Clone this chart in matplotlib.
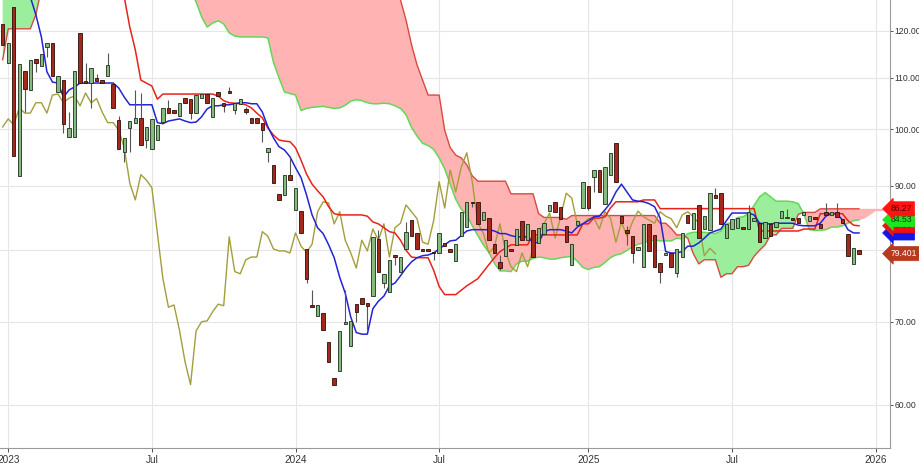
import numpy as np
import pandas as pd
import matplotlib
matplotlib.use("Agg")
import matplotlib.pyplot as plt
import matplotlib.transforms as mtransforms
from matplotlib.ticker import FixedLocator, NullLocator, FuncFormatter

plt.rcParams['font.family'] = ['Liberation Sans', 'DejaVu Sans']

# weekly bars (156 candles) + 5 weeks of cloud projection
weeks = pd.date_range('2022-12-26', periods=161, freq='W-MON')

open_ = [121.5, 113.0, 125.4, 91.7, 111.4, 107.5, 113.9, 112.4, 116.4, 117.3,
         107.1, 109.5, 98.6, 98.6, 119.5, 109.3, 108.9, 109.9, 109.5, 110.4,
         108.7, 101.7, 95.9, 100.2, 101.2, 102.1, 98.0, 96.4, 98.0, 101.3,
         104.0, 103.6, 102.5, 105.9, 105.8, 103.0, 105.9, 106.7, 102.3, 107.1,
         105.0, 107.3, 103.6, 104.8, 103.8, 102.1, 102.1, 101.2, 95.9, 93.6,
         88.7, 88.5, 91.9, 86.1, 85.9, 80.1, 72.2, 70.7, 71.1, 67.4,
         63.1, 63.9, 69.7, 66.9, 72.3, 73.1, 72.5, 73.4, 81.6, 75.2,
         74.0, 79.2, 76.8, 80.1, 84.5, 82.5, 80.1, 80.1, 79.6, 79.5,
         81.0, 80.1, 78.3, 82.0, 83.4, 87.4, 87.4, 84.5, 84.8, 80.8,
         78.2, 79.1, 80.1, 80.7, 84.4, 81.4, 83.0, 81.0, 82.4, 85.9,
         87.4, 86.6, 83.6, 77.8, 83.7, 86.4, 90.0, 91.5, 92.7, 87.1,
         91.9, 97.5, 85.1, 83.0, 82.0, 79.9, 77.5, 83.9, 82.2, 78.1,
         79.2, 79.5, 76.6, 78.9, 85.3, 83.1, 86.9, 83.1, 83.0, 88.5,
         88.8, 81.7, 83.1, 83.3, 83.4, 83.1, 84.4, 84.0, 81.7, 83.9,
         83.4, 84.8, 84.8, 84.8, 84.8, 85.3, 84.4, 85.0, 83.9, 85.8,
         85.3, 85.8, 84.7, 82.4, 77.9, 79.9]

high = [121.5, 117.3, 125.4, 112.8, 111.4, 113.7, 113.9, 114.9, 117.3, 117.3,
        110.4, 109.5, 103.2, 111.4, 119.5, 113.0, 112.0, 110.8, 109.5, 115.2,
        108.7, 102.5, 98.4, 101.5, 107.5, 106.9, 100.4, 101.9, 100.8, 104.0,
        105.6, 103.6, 105.0, 105.9, 105.8, 106.5, 106.7, 106.7, 105.9, 107.1,
        105.0, 108.1, 105.0, 105.8, 104.2, 102.1, 102.1, 101.2, 96.6, 93.6,
        88.7, 91.9, 94.8, 89.7, 85.9, 80.1, 74.2, 72.2, 71.1, 67.4,
        63.1, 68.8, 74.2, 70.1, 72.3, 73.1, 72.5, 81.9, 83.0, 76.5,
        78.5, 79.2, 78.9, 84.2, 84.5, 82.5, 80.1, 80.1, 79.6, 82.5,
        81.0, 80.1, 80.8, 85.8, 87.4, 87.4, 87.4, 85.8, 84.8, 80.8,
        79.2, 81.4, 80.1, 83.1, 84.4, 83.9, 83.0, 83.3, 84.0, 86.9,
        87.4, 86.6, 83.6, 80.8, 84.4, 90.7, 90.0, 92.7, 92.7, 93.2,
        95.7, 97.5, 85.1, 83.6, 82.0, 80.4, 83.9, 83.9, 82.2, 78.1,
        79.5, 79.5, 80.1, 82.5, 85.3, 85.6, 86.9, 85.1, 88.8, 89.7,
        88.8, 83.9, 84.7, 84.8, 83.4, 86.9, 84.8, 84.0, 84.2, 83.9,
        84.2, 85.9, 86.3, 84.8, 84.8, 85.8, 85.1, 85.0, 83.9, 87.2,
        85.8, 87.2, 84.7, 82.4, 80.2, 79.9]

low = [116.9, 113.0, 95.1, 91.7, 103.2, 107.5, 111.2, 112.4, 114.3, 110.4,
       107.1, 99.3, 98.6, 98.6, 108.9, 108.9, 104.0, 109.3, 108.9, 110.4,
       104.0, 96.4, 94.1, 95.9, 101.2, 97.1, 96.6, 96.4, 98.0, 101.3,
       103.0, 103.0, 102.5, 105.0, 101.9, 103.0, 105.9, 105.0, 102.3, 106.3,
       103.2, 106.9, 102.9, 104.8, 102.9, 101.2, 101.2, 97.7, 94.1, 90.5,
       87.7, 88.5, 91.0, 86.1, 82.5, 75.2, 71.9, 70.7, 68.9, 65.0,
       62.3, 63.9, 69.7, 66.9, 70.0, 72.3, 68.9, 73.4, 76.8, 74.5,
       74.0, 77.8, 76.8, 80.1, 82.0, 80.1, 79.8, 79.8, 78.5, 79.5,
       80.5, 79.6, 78.3, 82.0, 83.4, 86.6, 83.9, 84.5, 81.4, 79.5,
       77.0, 79.1, 79.8, 80.7, 81.4, 81.4, 78.9, 81.0, 82.4, 85.9,
       85.8, 84.7, 81.1, 77.8, 83.7, 86.4, 86.1, 89.0, 89.0, 87.1,
       91.9, 90.7, 84.0, 80.7, 78.1, 79.9, 77.5, 79.8, 77.5, 75.2,
       79.2, 77.5, 76.0, 78.9, 84.0, 83.1, 81.7, 83.1, 83.0, 88.0,
       83.9, 81.7, 83.1, 83.3, 83.1, 83.1, 84.4, 81.1, 81.7, 82.0,
       83.4, 84.8, 84.8, 84.5, 84.0, 85.3, 84.4, 84.7, 83.3, 85.3,
       85.3, 85.0, 84.0, 79.1, 77.9, 79.4]

close = [116.9, 117.3, 95.1, 112.8, 107.7, 113.7, 113.0, 114.9, 117.3, 110.4,
         110.4, 101.0, 100.2, 111.4, 108.9, 108.9, 112.0, 109.3, 108.9, 112.6,
         104.0, 96.4, 98.4, 101.5, 102.1, 97.1, 100.4, 101.9, 100.8, 104.0,
         103.0, 103.0, 105.0, 105.0, 103.0, 106.5, 106.7, 105.0, 105.9, 106.3,
         104.4, 106.9, 105.0, 105.8, 103.2, 101.2, 101.2, 99.8, 96.6, 90.5,
         87.7, 91.9, 91.0, 89.7, 82.5, 75.8, 71.9, 72.2, 68.9, 65.0,
         62.3, 68.8, 70.0, 70.1, 71.3, 72.3, 72.1, 81.9, 76.8, 76.5,
         78.5, 78.9, 78.9, 82.7, 82.0, 80.1, 79.8, 79.8, 79.5, 82.5,
         80.5, 79.6, 80.8, 85.8, 87.4, 87.2, 83.9, 85.8, 81.4, 79.5,
         77.3, 81.4, 79.8, 83.1, 81.4, 83.9, 78.9, 83.3, 84.0, 86.9,
         85.8, 84.7, 81.1, 80.8, 84.4, 90.7, 86.4, 92.7, 89.0, 93.2,
         95.7, 90.7, 84.0, 82.5, 79.5, 80.4, 83.9, 79.8, 77.5, 76.8,
         79.5, 77.5, 80.1, 82.5, 84.0, 85.6, 81.7, 85.1, 88.8, 88.0,
         83.9, 83.9, 84.7, 84.8, 83.1, 85.8, 84.8, 81.1, 84.2, 82.0,
         84.2, 85.9, 85.0, 84.5, 84.0, 85.8, 85.1, 84.7, 83.3, 85.3,
         85.8, 85.0, 84.0, 79.1, 80.2, 79.401]

tenkan = [131.0, 130.5, 130.0, 129.5, 129.0, 127.7, 123.6, 118.6, 111.2, 109.1,
          108.9, 106.1, 107.5, 108.1, 108.9, 108.9, 108.9, 108.9, 108.9, 108.9,
          108.9, 107.9, 106.1, 104.6, 104.6, 104.6, 104.6, 104.6, 101.2, 101.0,
          101.5, 101.7, 101.9, 101.5, 101.2, 101.3, 102.3, 103.8, 104.4, 104.4,
          104.6, 104.6, 104.8, 105.0, 105.0, 104.8, 104.8, 103.2, 100.4, 98.4,
          96.8, 96.2, 95.0, 93.1, 91.4, 88.5, 85.3, 83.3, 82.4, 80.7,
          78.8, 76.0, 73.8, 70.6, 68.6, 68.4, 68.4, 71.7, 72.7, 73.4,
          74.8, 75.2, 76.2, 77.3, 78.2, 78.8, 79.1, 79.2, 79.5, 80.1,
          80.7, 81.3, 81.4, 82.1, 82.8, 83.0, 83.0, 83.0, 83.0, 82.8,
          82.4, 82.4, 82.1, 81.9, 81.9, 81.9, 81.1, 81.0, 82.7, 83.0,
          83.0, 83.0, 82.8, 82.5, 83.4, 83.9, 84.4, 85.0, 85.1, 86.1,
          87.2, 89.0, 90.3, 89.0, 87.7, 87.5, 87.4, 87.1, 86.6, 84.8,
          79.7, 79.5, 79.5, 79.7, 80.5, 80.5, 81.0, 81.7, 82.5, 82.8,
          83.1, 84.4, 85.6, 85.6, 85.6, 85.6, 85.3, 84.0, 83.9, 83.9,
          84.0, 84.0, 84.0, 84.0, 83.7, 83.6, 83.6, 83.6, 84.0, 85.1,
          85.5, 85.5, 84.5, 83.0, 82.5, 82.5]

kijun = ([131.0] * 22 +
         [127.7, 120.8, 115.8, 109.5, 108.9, 108.3, 105.7, 106.7] +
         [106.7] * 9 + [106.3,
          105.4, 105.0, 104.9, 104.8, 104.6, 104.0, 103.0, 102.1, 100.2, 98.9,
          98.0, 97.8, 97.7, 96.6, 94.4, 92.0, 90.3, 89.2, 88.2, 86.6,
          85.5, 85.3, 85.3, 85.3, 85.3, 85.3, 85.1, 84.2, 83.9, 83.3,
          82.7, 82.5, 81.4, 79.9, 78.9, 78.8, 78.8, 78.8, 77.0, 74.7,
          73.6, 73.6, 73.6, 74.2, 74.8, 75.3, 75.8, 76.8, 77.8, 78.8,
          79.7, 80.2, 80.7, 80.7, 80.7, 80.7] +
         [82.2] * 9 + [83.9, 83.9, 84.8, 84.8, 85.0,
          86.4, 87.4, 87.4, 87.4, 87.4, 87.4, 87.7, 87.7, 87.7] +
         [86.3] * 18 + [82.8] * 8 + [83.1] * 3 + [85.5] * 5 +
         [84.4, 83.7, 83.6])

senkou_a = ([130.0] * 8 + [129.0] * 27 +
            [126.6, 123.1, 120.8, 121.7, 122.2,
             121.5, 119.5, 118.8, 118.6, 118.6, 118.6, 118.6, 118.6, 118.4, 113.2,
             110.0, 107.1, 106.8, 106.5, 103.5, 103.9, 104.1, 104.2, 104.3, 104.1,
             103.9, 104.0, 104.5, 105.3, 105.6, 105.4, 105.0, 104.8, 104.8, 104.9,
             104.8, 104.4, 103.9, 102.7, 100.3, 98.7, 97.4, 97.0, 96.3, 94.8,
             92.9, 90.3, 87.8, 86.2, 85.3, 83.6, 82.1, 80.7, 79.6, 78.0,
             76.9, 76.9, 76.8, 77.9, 78.3, 78.3, 78.7, 78.9, 78.8, 78.6,
             78.6, 78.8, 78.9, 79.0, 78.3, 77.4, 77.1, 77.4, 77.5, 78.1,
             78.8, 79.2, 79.4, 79.9, 80.4, 80.8, 81.0, 81.3, 81.4, 81.3,
             81.3, 81.3, 81.7, 81.6, 82.4, 82.6, 82.6, 82.6, 82.5, 82.4,
             82.8, 83.9, 84.1, 84.9, 85.0, 85.5, 86.8, 88.2, 88.9, 88.2,
             87.5, 87.5, 87.5, 87.4, 87.1, 85.5, 83.0, 82.9, 82.9, 83.0,
             83.4, 83.4, 83.6, 84.0, 84.4, 84.53, 84.7, 85.3, 85.9, 85.9,
             85.9])

senkou_b = ([113.7] + [120.4] * 5 + [123.6, 129.5] + [131.0] * 64 +
            [127.0, 122.4, 116.9, 112.6, 109.5] + [106.5] * 3 +
            [99.8, 96.6, 95.3, 94.8, 93.6, 91.7] + [90.8] * 6 + [88.7] * 5 +
            [85.5] + [84.9] * 4 + [84.6] + [85.2] * 16 + [84.0] * 2 + [83.2] +
            [82.2] * 2 + [81.7, 79.4, 77.9] + [78.5] * 3 + [76.0] + [76.5] * 2 +
            [77.5] * 2 + [77.7, 79.0, 79.9, 80.7] + [82.2] * 2 + [83.2] * 3 +
            [85.4] + [85.7] * 3 + [86.27] * 13)

n = len(close)
idx = np.arange(len(weeks))
bars = idx[:n]
o = np.array(open_)
c = np.array(close)
a = np.array(senkou_a)
b = np.array(senkou_b)

fig = plt.figure(figsize=(9.19, 4.65), dpi=100)
ax = fig.add_axes([0.0, 0.0366, 0.9684, 0.9634])
ax.set_yscale('log')

# cloud
ax.fill_between(idx, a, b, where=a >= b, interpolate=True, color='#9bee9b', lw=0, zorder=1)
ax.fill_between(idx, a, b, where=a < b, interpolate=True, color='#ffb3b3', lw=0, zorder=1)
ax.plot(bars, a[:n], color='#66d659', lw=1.1, zorder=2)
ax.plot(bars, b[:n], color='#d9493f', lw=1.0, zorder=2)

# chikou, kijun, tenkan
ax.plot(bars[:n - 26], c[26:], color='#a39e3c', lw=1.0, zorder=3)
ax.plot(bars, kijun, color='#e8231c', lw=1.1, zorder=4)
ax.plot(bars, tenkan, color='#2424d4', lw=1.1, zorder=4)

# candles
up = c >= o
ax.vlines(bars, low, high, color='#555555', lw=0.8, zorder=5)
ax.bar(bars[up], (c - o)[up], bottom=o[up], width=0.62, color='#86bb80',
       edgecolor='#1e2e1e', lw=0.6, zorder=6)
ax.bar(bars[~up], (o - c)[~up], bottom=c[~up], width=0.62, color='#a2291b',
       edgecolor='#2e0e08', lw=0.6, zorder=6)

ax.set_xlim(-0.49, 160.6)
ax.set_ylim(55.4, 127.0)

# x ticks at first bar of January / July
tick_idx, tick_lab = [], []
for i in range(1, len(weeks)):
    if weeks[i].month != weeks[i - 1].month and weeks[i].month in (1, 7):
        tick_idx.append(i)
        tick_lab.append(str(weeks[i].year) if weeks[i].month == 1 else 'Jul')
ax.set_xticks(tick_idx)
ax.set_xticklabels(tick_lab)

ax.yaxis.set_major_locator(FixedLocator([60, 70, 90, 100, 110, 120]))
ax.yaxis.set_minor_locator(NullLocator())
ax.yaxis.set_major_formatter(FuncFormatter(lambda v, p: '%.2f' % v))
ax.yaxis.tick_right()
ax.tick_params(axis='x', labelsize=7.2, colors='#333333', length=3, width=0.6, pad=2)
ax.tick_params(axis='y', labelsize=6.2, colors='#333333', length=2, width=0.6, pad=1)

ax.grid(True, color='#e6e6e6', lw=0.8, zorder=0)
ax.axhline(80, color='#e6e6e6', lw=0.8, zorder=0)
ax.set_axisbelow(True)
for s in ['left', 'top']:
    ax.spines[s].set_visible(False)
for s in ['right', 'bottom']:
    ax.spines[s].set_color('#9a9a9a')
    ax.spines[s].set_linewidth(0.8)

# right-hand value flags
trans = mtransforms.blended_transform_factory(ax.transAxes, ax.transData)
flags = [
    (tenkan[-1], '%.2f' % tenkan[-1], '#1414e6', '#1414e6'),
    (kijun[-1], '%.2f' % kijun[-1], '#f01010', '#5a0000'),
    (senkou_a[n - 1], '%.2f' % senkou_a[n - 1], '#1ee61e', '#0a3a0a'),
    (senkou_b[n - 1], '%.2f' % senkou_b[n - 1], '#ff1414', '#5a0000'),
    (close[-1], '%.3f' % close[-1], '#b83a1e', 'white'),
]
for k, (val, txt, fc, tc) in enumerate(flags):
    ax.text(1.0005, val, txt, transform=trans, ha='left', va='center',
            fontsize=6.2, color=tc, clip_on=False, zorder=20 + k,
            bbox=dict(boxstyle='larrow,pad=0.3', fc=fc, ec=fc, lw=0.5))

fig.savefig('out.png', dpi=100)
